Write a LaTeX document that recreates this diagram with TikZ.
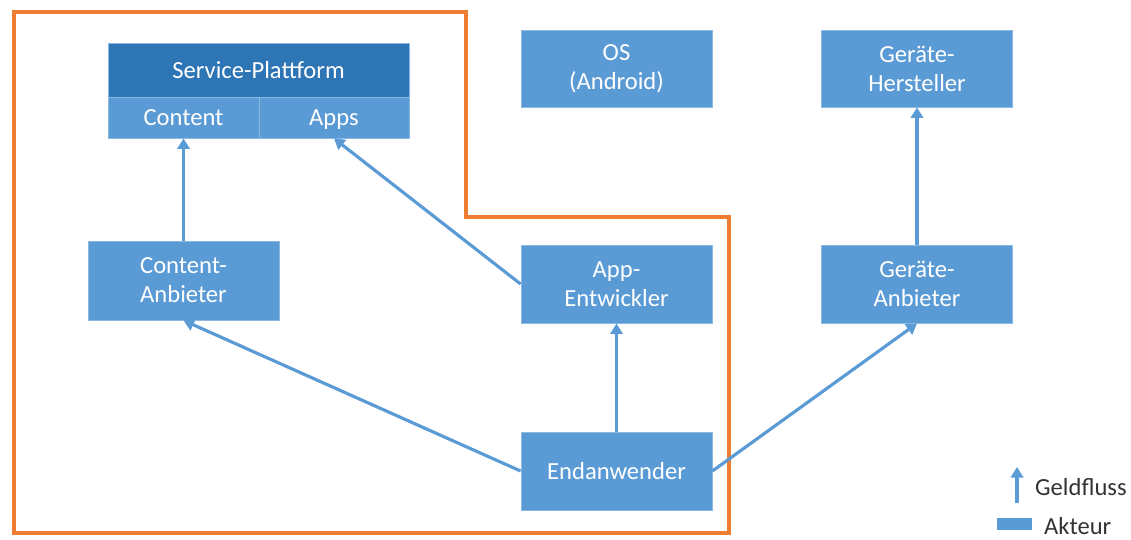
\documentclass[tikz,border=0pt]{standalone}
\usepackage{fontspec}
\setmainfont{Carlito}
\usepackage{tikz}
\usetikzlibrary{arrows.meta, positioning}
\definecolor{akteur}{HTML}{5B9BD5}
\definecolor{plattform}{HTML}{2E75B6}
\definecolor{rahmen}{HTML}{ED7D31}
\tikzstyle{actor} = [rectangle, minimum width=3.82cm, minimum height=1.56cm, align=center, text=white, fill=akteur, draw=akteur!70!white, line width=0.5pt, font=\fontsize{14}{16.5}\selectfont]
\tikzstyle{part} = [actor, minimum height=0.82cm, text height=2ex, text depth=0ex]
\tikzstyle{geld} = [draw=akteur, line width=1.8pt, -{Triangle[length=6pt, width=7pt]}]
\tikzstyle{legend} = [anchor=west, text=black!80, font=\fontsize{14}{16.5}\selectfont]

\begin{document}
\begin{tikzpicture}[x=0.02cm, y=-0.02cm]
            \useasboundingbox (0,0) rectangle (1131,540);

            % Rahmen
            \draw[rahmen, line width=2.5pt] (14,12) -- (466,12) -- (466,217) -- (729,217) -- (729,533) -- (14,533) -- cycle;

            % Service-Plattform
            \node[actor, fill=plattform, minimum width=6.02cm, minimum height=1.08cm] (sp) at (258.5,70) {Service-Plattform};
            \node[part, minimum width=3.02cm] (content) at (183.5,117.5) {Content};
            \node[part, minimum width=3.0cm] (apps) at (334,117.5) {Apps};

            \node[actor, minimum height=1.54cm] (os) at (616.5,68.5) {OS\\(Android)};
            \node[actor, minimum height=1.54cm] (hersteller) at (917,68.5) {Geräte-\\Hersteller};

            \node[actor, minimum height=1.58cm] (canbieter) at (183.5,280.5) {Content-\\Anbieter};
            \node[actor] (entwickler) at (616.5,284) {App-\\Entwickler};
            \node[actor] (ganbieter) at (917,284) {Geräte-\\Anbieter};
            \node[actor] (endanwender) at (616.5,471) {Endanwender};

            % Geldfluss
            \draw[geld] (canbieter) -- (content);
            \draw[geld] (entwickler.west) -- (apps.south);
            \draw[geld] (endanwender.west) -- (canbieter.south);
            \draw[geld] (endanwender) -- (entwickler);
            \draw[geld] (endanwender.east) -- (ganbieter.south);
            \draw[geld] (ganbieter) -- (hersteller);

            % Legende
            \coordinate (leg-a) at (1017,503);
            \coordinate (leg-b) at (1017,467);
            \draw[geld] (leg-a) -- (leg-b);
            \node[legend] (leg-geld) at (1029,487) {Geldfluss};
            \node[rectangle, fill=akteur, minimum width=0.7cm, minimum height=0.24cm, inner sep=0pt] (leg-box) at (1014.5,524) {};
            \node[legend] (leg-akteur) at (1038,526) {Akteur};

        \end{tikzpicture}
\end{document}
